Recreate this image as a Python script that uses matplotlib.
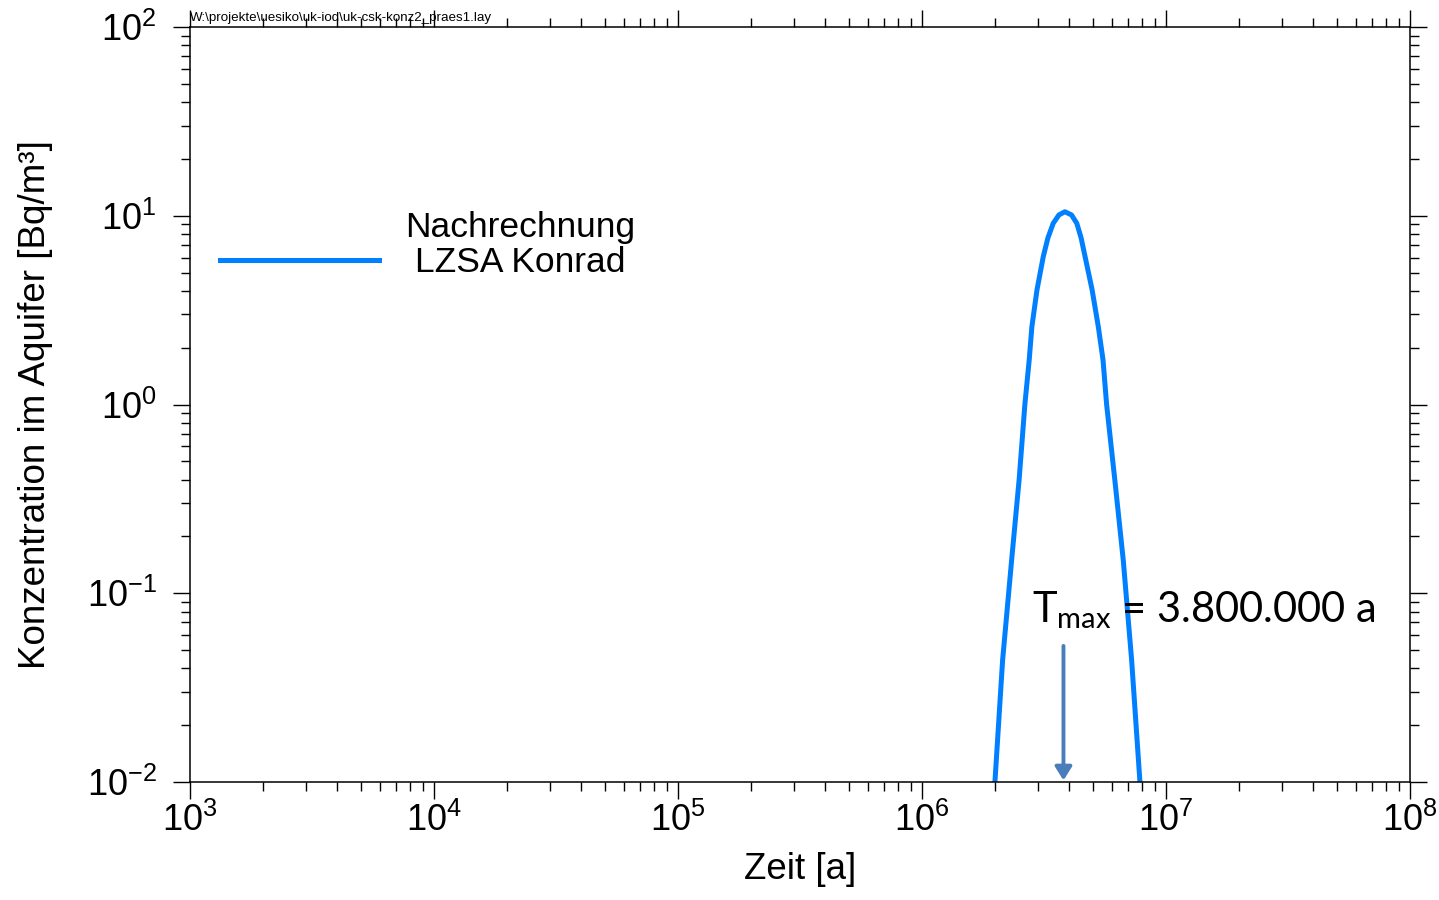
import matplotlib
matplotlib.use('Agg')
import matplotlib.pyplot as plt
from matplotlib.offsetbox import TextArea

plt.rcParams['font.family'] = ['Liberation Sans', 'DejaVu Sans']
plt.rcParams['mathtext.fontset'] = 'custom'
plt.rcParams['mathtext.rm'] = 'Liberation Sans'
plt.rcParams['mathtext.it'] = 'Liberation Sans:italic'
plt.rcParams['mathtext.sf'] = 'Lato'
plt.rcParams['mathtext.default'] = 'regular'

# curve (Zeit in a, Konzentration in Bq/m3)
zeit = [1.99e6, 2.14e6, 2.33e6, 2.50e6, 2.64e6, 2.75e6, 2.82e6, 2.96e6,
        3.14e6, 3.28e6, 3.45e6, 3.64e6, 3.85e6, 4.10e6, 4.31e6, 4.49e6,
        4.66e6, 4.98e6, 5.28e6, 5.52e6, 5.71e6, 6.17e6, 6.68e6, 7.23e6,
        7.82e6]
konz = [0.010, 0.0443, 0.150, 0.398, 1.0, 1.72, 2.58, 4.05,
        6.07, 7.62, 9.12, 10.1, 10.5, 10.1, 9.12, 7.62,
        6.07, 4.05, 2.58, 1.72, 1.0, 0.398, 0.150, 0.0443,
        0.010]

T_MAX = 3.8e6
arrow_top = 0.0526
arrow_tip = 0.0102

curve_label = 'Nachrechnung\nLZSA Konrad'
file_path = r'W:\projekte\uesiko\uk-iod\uk-csk-konz2_praes1.lay'

W, H = 1439, 900
fig = plt.figure(figsize=(W / 100, H / 100), dpi=100)
ax = fig.add_axes([190 / W, (H - 782) / H, 1220 / W, 755 / H])

ax.plot(zeit, konz, color='#0080ff', lw=3.6, label=curve_label)

ax.set_xscale('log')
ax.set_yscale('log')
ax.set_xlim(1e3, 1e8)
ax.set_ylim(1e-2, 1e2)

for s in ax.spines.values():
    s.set_linewidth(1.1)
ax.tick_params(which='both', direction='out', top=True, right=True, width=1.0)
ax.tick_params(which='major', length=12)
ax.tick_params(which='minor', length=6.5)
ax.tick_params(axis='x', which='major', labelsize=26, pad=3)
ax.tick_params(axis='y', which='major', labelsize=26, pad=12)

ax.set_xlabel('Zeit [a]', fontsize=26.5)
ax.xaxis.set_label_coords(0.5, -0.093)
ax.set_ylabel('Konzentration im Aquifer [Bq/m³]', fontsize=26.5)
ax.yaxis.set_label_coords(-0.112, 0.5)

leg = ax.legend(loc='upper left', bbox_to_anchor=(0.0246, 0.756),
                frameon=False, fontsize=25.5, handlelength=4.5,
                handletextpad=0.72, borderpad=0, borderaxespad=0)
for t in leg.get_texts():
    t.set_multialignment('center')
    t.set_linespacing(1.08)
for ta in leg.findobj(TextArea):
    ta._multilinebaseline = False

ax.annotate('', xy=(T_MAX, arrow_tip), xytext=(T_MAX, arrow_top),
            arrowprops=dict(arrowstyle='-|>,head_length=0.8,head_width=0.5',
                            color='#4a7ebb', lw=2.8, shrinkA=0, shrinkB=0),
            annotation_clip=False)
ax.text(0.690, 0.212, 'T$_{\\mathsf{max}}$ = 3.800.000 a', transform=ax.transAxes,
        fontsize=30, family='Lato', va='baseline', ha='left')

fig.text(190 / W, 1 - 18 / H, file_path, fontsize=9.6, va='center', ha='left')

fig.savefig('out.png', dpi=100)
